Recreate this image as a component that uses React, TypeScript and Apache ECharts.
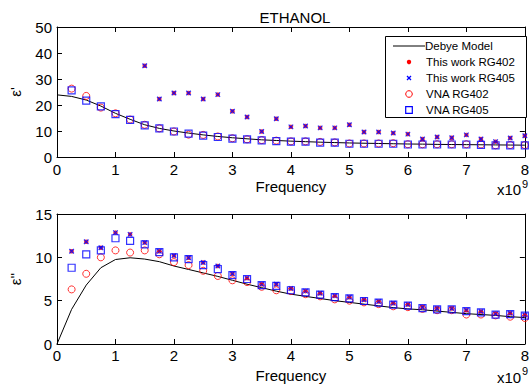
import React, { useEffect, useRef } from "react";
import * as echarts from "echarts";

const FONT = "'Liberation Sans', Arial, Helvetica, sans-serif";

const freqModel = [0, 0.25, 0.5, 0.75, 1, 1.25, 1.5, 1.75, 2, 2.25, 2.5, 2.75, 3, 3.25, 3.5, 3.75, 4, 4.25, 4.5, 4.75, 5, 5.25, 5.5, 5.75, 6, 6.25, 6.5, 6.75, 7, 7.25, 7.5, 7.75, 8];
const freqMeas = [0.25, 0.5, 0.75, 1, 1.25, 1.5, 1.75, 2, 2.25, 2.5, 2.75, 3, 3.25, 3.5, 3.75, 4, 4.25, 4.5, 4.75, 5, 5.25, 5.5, 5.75, 6, 6.25, 6.5, 6.75, 7, 7.25, 7.5, 7.75, 8];

// epsilon' (top)
const debyeReal = [23.9, 23.3, 21.9, 19.6, 16.8, 14.5, 12.4, 11.0, 10.0, 9.2, 8.5, 7.9, 7.4, 7.0, 6.6, 6.35, 6.1, 5.9, 5.7, 5.55, 5.4, 5.3, 5.2, 5.1, 5.0, 4.95, 4.85, 4.8, 4.75, 4.7, 4.65, 4.6, 4.55];
const workRG402Real = [null, null, null, null, null, 35.1, 22.3, 24.6, 24.6, 22.3, 24.0, 17.6, 15.4, 9.8, 14.7, 11.6, 11.9, 11.2, 11.2, 12.4, 9.6, 9.6, 9.2, 8.8, 6.9, 7.7, 7.4, 8.5, 6.9, 5.9, 7.3, 8.2];
const workRG405Real = [null, null, null, null, null, 35.1, 22.3, 24.6, 24.6, 22.3, 24.0, 17.6, 15.4, 9.8, 14.7, 11.6, 11.9, 11.2, 11.2, 12.4, 9.6, 9.6, 9.2, 8.8, 6.9, 7.7, 7.4, 8.5, 6.9, 5.9, 7.3, 8.2];
const vnaRG402Real = [26.3, 23.5, 19.0, 16.8, 14.4, 12.4, 11.0, 9.8, 8.6, 8.5, 7.9, 7.2, 6.8, 6.5, 6.3, 6.0, 6.0, 5.8, 5.6, 5.2, 5.2, 5.2, 5.3, 4.9, 4.9, 4.9, 4.9, 4.9, 4.8, 4.5, 4.6, 4.6];
const vnaRG405Real = [25.6, 21.7, 19.5, 16.5, 14.3, 12.2, 11.0, 9.8, 9.0, 8.2, 7.7, 7.1, 6.8, 6.4, 6.1, 5.9, 5.9, 5.5, 5.5, 5.1, 5.1, 5.1, 5.1, 4.8, 4.8, 4.8, 4.8, 4.8, 4.7, 4.45, 4.45, 4.45];

// epsilon'' (bottom)
const debyeImag = [0, 4.0, 6.8, 8.8, 9.75, 9.95, 9.8, 9.5, 9.0, 8.6, 8.2, 7.8, 7.35, 6.9, 6.5, 6.1, 5.75, 5.5, 5.25, 5.0, 4.8, 4.6, 4.4, 4.2, 4.05, 3.95, 3.8, 3.65, 3.5, 3.4, 3.3, 3.15, 3.05];
const workRG402Imag = [10.7, 11.8, 11.1, 12.85, 12.65, 11.7, 10.7, 10.2, 9.95, 9.4, 9.0, 8.1, 7.6, 6.9, 6.9, 6.4, 6.1, 5.85, 5.55, 5.4, 5.1, 4.9, 4.7, 4.55, 4.25, 4.1, 4.1, 3.9, 3.75, 3.5, 3.55, 3.35];
const workRG405Imag = [10.7, 11.8, 11.1, 12.85, 12.65, 11.7, 10.7, 10.2, 9.95, 9.4, 9.0, 8.1, 7.6, 6.9, 6.9, 6.4, 6.1, 5.85, 5.55, 5.4, 5.1, 4.9, 4.7, 4.55, 4.25, 4.1, 4.1, 3.9, 3.75, 3.5, 3.55, 3.35];
const vnaRG402Imag = [6.3, 8.1, 10.0, 10.8, 10.55, 10.8, 10.35, 9.45, 9.1, 8.45, 7.85, 7.35, 7.15, 6.6, 6.2, 6.1, 5.75, 5.5, 5.15, 5.0, 4.8, 4.6, 4.35, 4.25, 4.05, 3.9, 3.9, 3.4, 3.4, 3.3, 3.15, 3.0];
const vnaRG405Imag = [8.8, 10.35, 10.8, 12.2, 11.9, 11.5, 10.6, 10.0, 9.8, 9.1, 8.65, 7.95, 7.5, 6.8, 6.7, 6.2, 5.96, 5.7, 5.4, 5.27, 4.96, 4.77, 4.54, 4.42, 4.15, 4.0, 4.0, 3.8, 3.65, 3.4, 3.45, 3.27];

const xTicks = { min: 0, max: 8, interval: 1 };
const yTopTicks = { min: 0, max: 50, interval: 10 };
const yBotTicks = { min: 0, max: 15, interval: 5 };

const legendNames = ["Debye Model", "This work RG402", "This work RG405", "VNA RG402", "VNA RG405"];

const pairs = (xs: number[], ys: (number | null)[]) =>
  xs.map((x, i) => [x, ys[i]]).filter((p) => p[1] !== null);

const XPATH = "path://M0,0L10,10M10,0L0,10";

export default function App() {
  const ref = useRef<HTMLDivElement>(null);
  useEffect(() => {
    if (!ref.current) return;
    const chart = echarts.init(ref.current, undefined, { renderer: "svg" });

    const axisCommon = {
      axisLine: { show: true, onZero: false, lineStyle: { color: "#000", width: 1 } },
      axisTick: { show: true, inside: true, length: 5, lineStyle: { color: "#000" } },
      splitLine: { show: false },
    };
    const labelStyle = { color: "#000", fontSize: 15, fontFamily: FONT };
    const nameStyle = { color: "#000", fontSize: 15, fontFamily: FONT };

    const xAxisFor = (gridIndex: number, gap: number, margin: number) => [
      {
        type: "value", gridIndex, position: "bottom", ...xTicks, ...axisCommon,
        axisLabel: { ...labelStyle, margin },
        name: "Frequency", nameLocation: "middle", nameGap: gap, nameTextStyle: nameStyle,
      },
      {
        type: "value", gridIndex, position: "top", ...xTicks, ...axisCommon,
        axisLabel: { show: false },
      },
    ];
    const yAxisFor = (gridIndex: number, ticks: any, name: string) => [
      {
        type: "value", gridIndex, position: "left", ...ticks, ...axisCommon,
        axisLabel: { ...labelStyle, margin: 5 },
        name, nameLocation: "middle", nameGap: 34, nameTextStyle: nameStyle,
      },
      {
        type: "value", gridIndex, position: "right", ...ticks, ...axisCommon,
        axisLabel: { show: false },
      },
    ];

    const seriesFor = (gi: number, model: number[], w402: any[], w405: any[], v402: number[], v405: number[]) => {
      const xi = gi * 2;
      const yi = gi * 2;
      return [
        {
          type: "line", name: legendNames[0], xAxisIndex: xi, yAxisIndex: yi,
          data: pairs(freqModel, model), showSymbol: false, symbol: "none",
          lineStyle: { color: "#000", width: 1 }, z: 2,
        },
        {
          type: "scatter", name: legendNames[1], xAxisIndex: xi, yAxisIndex: yi,
          data: pairs(freqMeas, w402), symbol: "circle", symbolSize: 4.5,
          itemStyle: { color: "#ff0000" }, z: 3,
        },
        {
          type: "scatter", name: legendNames[2], xAxisIndex: xi, yAxisIndex: yi,
          data: pairs(freqMeas, w405), symbol: XPATH, symbolSize: 4.5,
          itemStyle: { color: "transparent", borderColor: "#0000ff", borderWidth: 1.3 }, z: 4,
        },
        {
          type: "scatter", name: legendNames[3], xAxisIndex: xi, yAxisIndex: yi,
          data: pairs(freqMeas, v402), symbol: "circle", symbolSize: 7,
          itemStyle: { color: "transparent", borderColor: "#ff0000", borderWidth: 1 }, z: 5,
        },
        {
          type: "scatter", name: legendNames[4], xAxisIndex: xi, yAxisIndex: yi,
          data: pairs(freqMeas, v405), symbol: "rect", symbolSize: 7,
          itemStyle: { color: "transparent", borderColor: "#0000ff", borderWidth: 1.2 }, z: 6,
        },
      ];
    };

    const LX = 385.5, LY = 36.5, LW = 141, LH = 81;
    const rowY = [46, 62, 78, 94, 110];
    const mx = 409;
    const legendText = legendNames.map((t, i) => ({
      type: "text", z: 101,
      style: { text: t, x: i === 0 ? 425 : 426, y: rowY[i], verticalAlign: "middle", fill: "#000", fontSize: 11.5, fontFamily: FONT },
    }));

    const option = {
      animation: false,
      backgroundColor: "#fff",
      title: {
        text: "ETHANOL", left: 290, top: 5, textAlign: "center",
        textStyle: { color: "#000", fontSize: 15, fontWeight: "normal", fontFamily: FONT },
      },
      grid: [
        { left: 50, top: 27, right: 2, height: 130 },
        { left: 50, top: 214, right: 2, height: 130 },
      ],
      xAxis: [...xAxisFor(0, 22, 5), ...xAxisFor(1, 24, 4)],
      yAxis: [...yAxisFor(0, yTopTicks, "ε'"), ...yAxisFor(1, yBotTicks, "ε''")],
      series: [
        ...seriesFor(0, debyeReal, workRG402Real, workRG405Real, vnaRG402Real, vnaRG405Real),
        ...seriesFor(1, debyeImag, workRG402Imag, workRG405Imag, vnaRG402Imag, vnaRG405Imag),
      ],
      graphic: [
        { type: "text", style: { text: "x10", x: 497, y: 189, verticalAlign: "middle", fill: "#000", fontSize: 15, fontFamily: FONT } },
        { type: "text", style: { text: "9", x: 522, y: 184, verticalAlign: "middle", fill: "#000", fontSize: 11, fontFamily: FONT } },
        { type: "text", style: { text: "x10", x: 497, y: 377, verticalAlign: "middle", fill: "#000", fontSize: 15, fontFamily: FONT } },
        { type: "text", style: { text: "9", x: 522, y: 371, verticalAlign: "middle", fill: "#000", fontSize: 11, fontFamily: FONT } },
        { type: "rect", z: 100, shape: { x: LX, y: LY, width: LW, height: LH }, style: { fill: "#fff", stroke: "#000", lineWidth: 1 } },
        { type: "line", z: 101, shape: { x1: 393, y1: rowY[0], x2: 425, y2: rowY[0] }, style: { stroke: "#000", lineWidth: 1 } },
        { type: "circle", z: 101, shape: { cx: mx, cy: rowY[1], r: 2.2 }, style: { fill: "#ff0000" } },
        { type: "line", z: 101, shape: { x1: mx - 2, y1: rowY[2] - 2, x2: mx + 2, y2: rowY[2] + 2 }, style: { stroke: "#0000ff", lineWidth: 1.3 } },
        { type: "line", z: 101, shape: { x1: mx + 2, y1: rowY[2] - 2, x2: mx - 2, y2: rowY[2] + 2 }, style: { stroke: "#0000ff", lineWidth: 1.3 } },
        { type: "circle", z: 101, shape: { cx: mx, cy: rowY[3], r: 3.3 }, style: { fill: "none", stroke: "#ff0000", lineWidth: 1 } },
        { type: "rect", z: 101, shape: { x: mx - 3.3, y: rowY[4] - 3.3, width: 6.6, height: 6.6 }, style: { fill: "none", stroke: "#0000ff", lineWidth: 1.2 } },
        ...legendText,
      ],
    };
    chart.setOption(option as any);
    return () => chart.dispose();
  }, []);
  return <div ref={ref} style={{ position: "fixed", left: 0, top: 0, width: 532, height: 388 }} />;
}
